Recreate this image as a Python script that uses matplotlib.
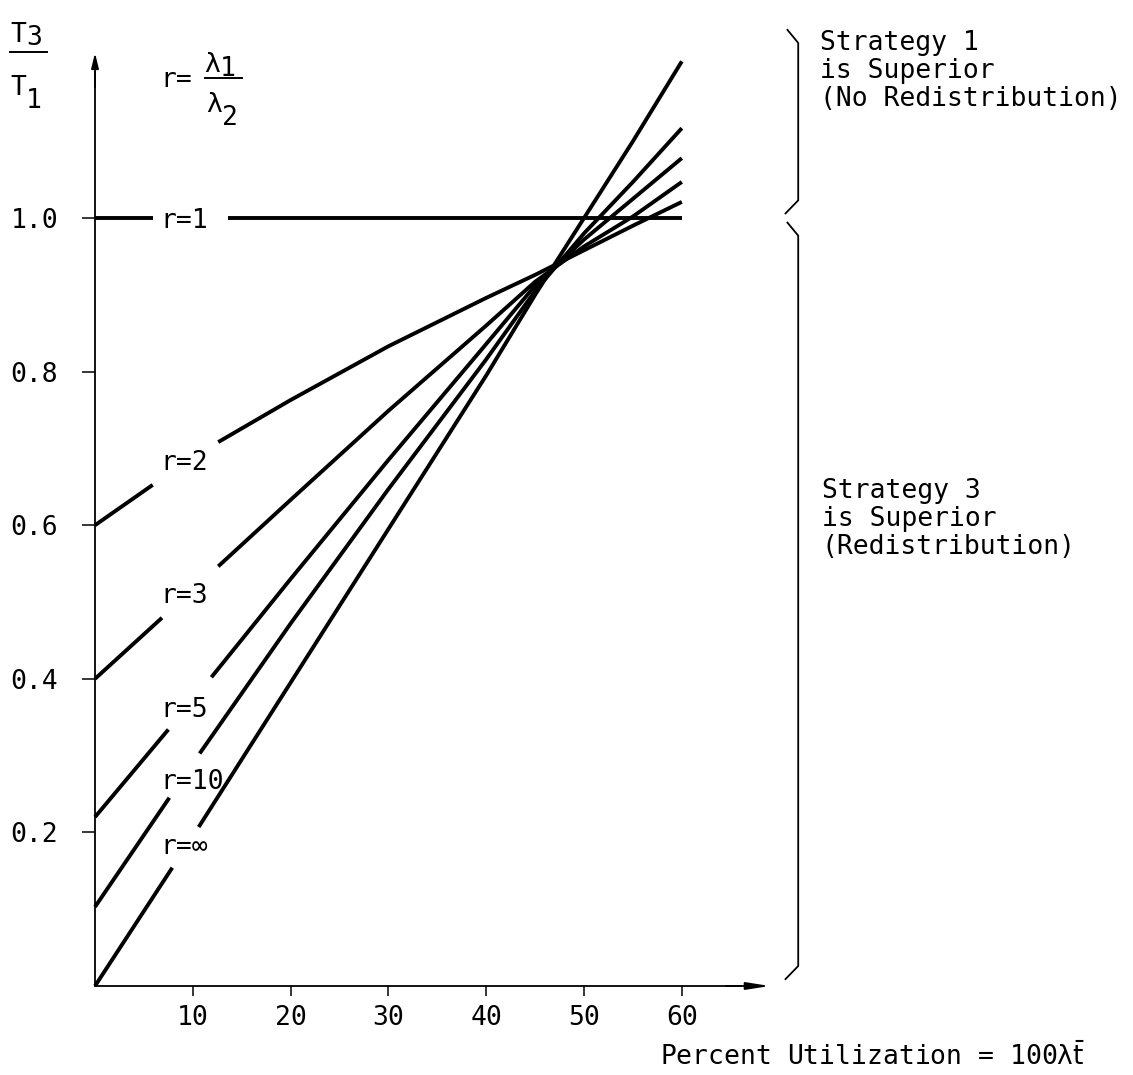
import numpy as np
import matplotlib
matplotlib.use("Agg")
import matplotlib.pyplot as plt

# ---------------- data ----------------
utilization = [0, 10, 20, 30, 40, 45, 50, 55, 60]
ratio_r1 = [1.000, 1.000, 1.000, 1.000, 1.000, 1.000, 1.000, 1.000, 1.000]
ratio_r2 = [0.600, 0.689, 0.763, 0.833, 0.896, 0.926, 0.958, 0.990, 1.021]
ratio_r3 = [0.400, 0.516, 0.633, 0.749, 0.860, 0.917, 0.963, 1.002, 1.047]
ratio_r5 = [0.220, 0.372, 0.530, 0.685, 0.836, 0.912, 0.972, 1.025, 1.078]
ratio_r10 = [0.103, 0.290, 0.472, 0.647, 0.816, 0.905, 0.980, 1.047, 1.117]
ratio_rinf = [0.000, 0.195, 0.395, 0.595, 0.795, 0.900, 1.000, 1.100, 1.204]

series = [ratio_r1, ratio_r2, ratio_r3, ratio_r5, ratio_r10, ratio_rinf]
series_labels = ["r=1", "r=2", "r=3", "r=5", "r=10", "r=\u221e"]

xtick_values = [10, 20, 30, 40, 50, 60]
xtick_labels = ["10", "20", "30", "40", "50", "60"]
ytick_values = [0.2, 0.4, 0.6, 0.8, 1.0]
ytick_labels = ["0.2", "0.4", "0.6", "0.8", "1.0"]

# layout / styling
label_gaps = [(5.9, 13.6), (5.9, 12.6), (6.85, 12.6), (7.5, 11.9), (7.6, 10.7), (7.9, 10.6)]
label_pos = [(6.65, 0.987), (6.65, 0.672), (6.65, 0.499), (6.65, 0.350), (6.65, 0.257), (6.65, 0.172)]

MONO = "DejaVu Sans Mono"
FS = 19
plt.rcParams["font.family"] = [MONO, "DejaVu Sans"]
plt.rcParams["mathtext.fontset"] = "dejavusans"

fig = plt.figure(figsize=(11.33, 10.75), dpi=100)
ax = fig.add_axes([0, 0, 1, 1])
ax.set_xlim(-9.714, 106.13)
ax.set_ylim(-0.1159, 1.2839)

# axes as spines through the origin
for s in ["top", "right"]:
    ax.spines[s].set_visible(False)
ax.spines["left"].set_position(("data", 0))
ax.spines["bottom"].set_position(("data", 0))
ax.spines["left"].set_bounds(0, 1.19)
ax.spines["bottom"].set_bounds(0, 66)
ax.spines["left"].set_linewidth(1.3)
ax.spines["bottom"].set_linewidth(1.3)

ax.set_xticks(xtick_values)
ax.set_xticklabels(xtick_labels, fontsize=FS, family=MONO)
ax.set_yticks(ytick_values)
ax.set_yticklabels(ytick_labels, fontsize=FS, family=MONO)
ax.tick_params(axis="x", direction="out", length=7.5, width=1.1, pad=6)
ax.tick_params(axis="y", direction="out", length=9.5, width=1.1, pad=17)

# arrow heads
ax.annotate("", xy=(69.0, 0), xytext=(64.5, 0),
            arrowprops=dict(arrowstyle="-|>,head_length=1.4,head_width=0.22",
                            color="black", lw=1.3, shrinkA=0, shrinkB=0))
ax.annotate("", xy=(0, 1.215), xytext=(0, 1.17),
            arrowprops=dict(arrowstyle="-|>,head_length=0.9,head_width=0.22",
                            color="black", lw=1.3, shrinkA=0, shrinkB=0))

# curves, each with a gap where its label sits
x = np.asarray(utilization, float)
for yv, gap, lab, pos in zip(series, label_gaps, series_labels, label_pos):
    y = np.asarray(yv, float)
    g0, g1 = gap
    y0 = np.interp(g0, x, y)
    y1 = np.interp(g1, x, y)
    left = x < g0
    right = x > g1
    ax.plot(np.r_[x[left], g0], np.r_[y[left], y0], color="black", lw=2.8,
            solid_capstyle="butt", solid_joinstyle="round")
    ax.plot(np.r_[g1, x[right]], np.r_[y1, y[right]], color="black", lw=2.8,
            solid_capstyle="butt", solid_joinstyle="round")
    ax.text(pos[0], pos[1], lab, fontsize=FS, family=MONO, ha="left", va="baseline")

# y label  T3 / T1  (typewriter-style stacked fraction)
tkw = dict(fontsize=FS, family=MONO, ha="left", va="baseline")
ax.text(-8.69, 1.2292, "T", **tkw)
ax.text(-7.06, 1.2250, "3", **tkw)
ax.plot([-8.69, -4.91], [1.2161, 1.2161], color="black", lw=1.4)
ax.text(-8.69, 1.1602, "T", **tkw)
ax.text(-7.06, 1.1432, "1", **tkw)

# r = lambda1 / lambda2
ax.text(6.65, 1.1706, "r=", **tkw)
ax.text(11.15, 1.1901, "\u03bb", **tkw)
ax.text(12.78, 1.1850, "1", **tkw)
ax.plot([11.25, 15.03], [1.1823, 1.1823], color="black", lw=1.4)
ax.text(11.35, 1.1380, "\u03bb", **tkw)
ax.text(12.99, 1.1211, "2", **tkw)

# braces on the right
bx_in, bx_out = 71.9, 70.6
hook = 0.017
for top, bot in [(1.245, 1.006), (0.994, 0.009)]:
    ax.plot([bx_out + 0.2, bx_in, bx_in, bx_out],
            [top, top - hook, bot + hook, bot], color="black", lw=1.3)

ax.text(74.1, 1.245, "Strategy 1\nis Superior\n(No Redistribution)",
        fontsize=FS, family=MONO, ha="left", va="top", linespacing=1.1)
ax.text(74.3, 0.662, "Strategy 3\nis Superior\n(Redistribution)",
        fontsize=FS, family=MONO, ha="left", va="top", linespacing=1.1)

ax.text(57.8, -0.092, r"Percent Utilization = 100λ$\bar{\mathrm{t}}$",
        fontsize=FS, family=MONO, ha="left", va="center")

fig.savefig("out.png", dpi=100, facecolor="white")
